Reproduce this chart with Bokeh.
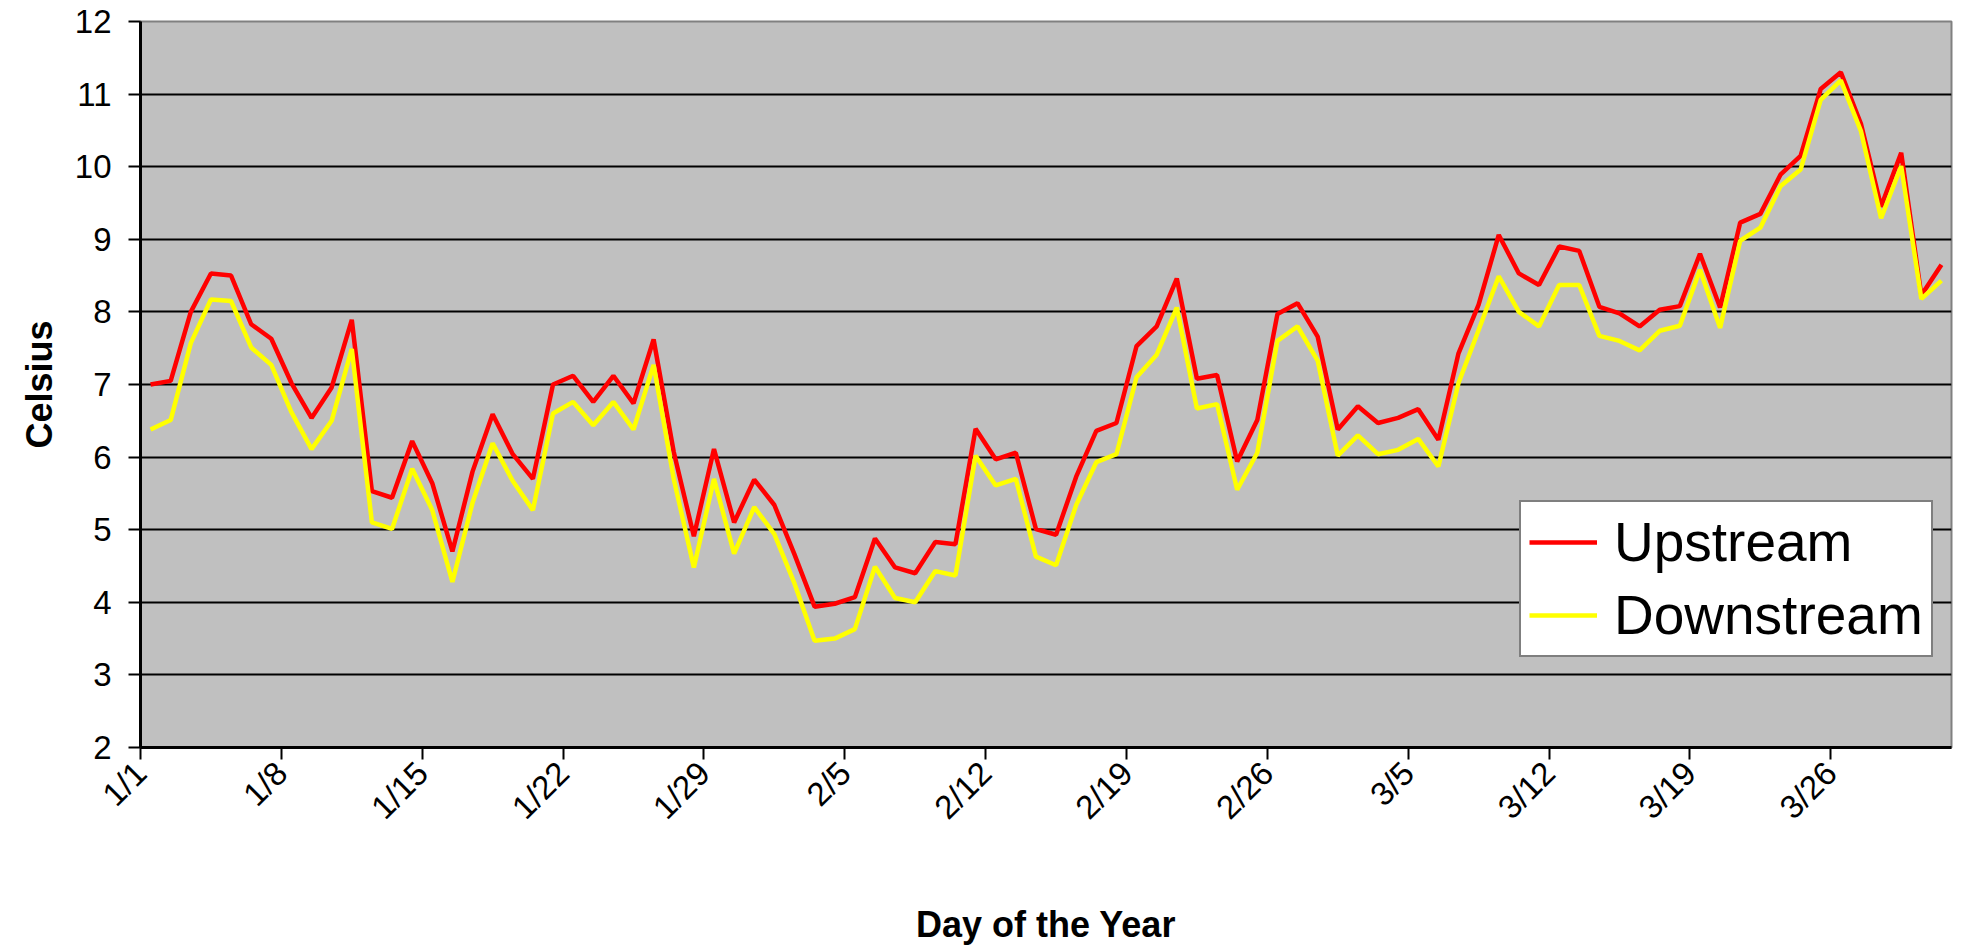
import math
from bokeh.plotting import figure
from bokeh.models import Range1d, FixedTicker, Legend, LegendItem, ColumnDataSource
from bokeh.embed import file_html
from bokeh.resources import INLINE

# ---- data ----
upstream = [7.00, 7.05, 8.00, 8.53, 8.50, 7.83, 7.63, 7.02, 6.54, 6.96,
            7.89, 5.53, 5.44, 6.22, 5.64, 4.70, 5.80, 6.59, 6.04, 5.70,
            7.00, 7.12, 6.76, 7.12, 6.74, 7.62, 6.07, 4.91, 6.11, 5.10,
            5.69, 5.34, 4.66, 3.94, 3.98, 4.07, 4.88, 4.48, 4.40, 4.83,
            4.80, 6.39, 5.97, 6.06, 5.01, 4.93, 5.73, 6.36, 6.47, 7.53,
            7.80, 8.46, 7.08, 7.13, 5.94, 6.51, 7.97, 8.12, 7.66, 6.38,
            6.70, 6.47, 6.54, 6.66, 6.24, 7.43, 8.10, 9.06, 8.53, 8.37,
            8.90, 8.84, 8.07, 7.98, 7.80, 8.03, 8.08, 8.80, 8.06, 9.23,
            9.35, 9.89, 10.15, 11.07, 11.30, 10.59, 9.45, 10.19, 8.23, 8.65]

downstream = [6.38, 6.51, 7.57, 8.17, 8.15, 7.51, 7.27, 6.62, 6.11, 6.50,
              7.49, 5.10, 5.01, 5.84, 5.27, 4.28, 5.37, 6.19, 5.67, 5.27,
              6.60, 6.76, 6.44, 6.76, 6.38, 7.27, 5.70, 4.48, 5.70, 4.67,
              5.31, 4.94, 4.26, 3.47, 3.50, 3.63, 4.49, 4.06, 4.00, 4.43,
              4.37, 6.02, 5.61, 5.70, 4.63, 4.51, 5.34, 5.93, 6.04, 7.10,
              7.41, 8.06, 6.67, 6.73, 5.55, 6.06, 7.60, 7.80, 7.33, 6.02,
              6.30, 6.04, 6.10, 6.25, 5.87, 7.02, 7.75, 8.49, 8.00, 7.80,
              8.37, 8.37, 7.67, 7.60, 7.47, 7.74, 7.81, 8.58, 7.78, 8.98,
              9.16, 9.73, 9.96, 10.92, 11.19, 10.49, 9.29, 10.01, 8.18, 8.43]

day_index = list(range(len(upstream)))          # 1/1 .. 3/31
tick_days = [0, 7, 14, 21, 28, 35, 42, 49, 56, 63, 70, 77, 84]
tick_labels = ["1/1", "1/8", "1/15", "1/22", "1/29", "2/5", "2/12",
               "2/19", "2/26", "3/5", "3/12", "3/19", "3/26"]
y_ticks = [2, 3, 4, 5, 6, 7, 8, 9, 10, 11, 12]

FONT = "Liberation Sans"

src = ColumnDataSource(dict(x=[d + 0.5 for d in day_index], up=upstream, down=downstream))

p = figure(width=1957, height=948,
           x_range=Range1d(0, len(day_index)), y_range=Range1d(2, 12),
           output_backend="svg", toolbar_location=None,
           min_border_left=140, min_border_right=6,
           min_border_top=21, min_border_bottom=201,
           background_fill_color="#C0C0C0", border_fill_color="white")

p.outline_line_color = "#808080"
p.outline_line_width = 2

# grid
p.xgrid.grid_line_color = None
p.ygrid.grid_line_color = "black"
p.ygrid.grid_line_width = 2
p.ygrid.ticker = FixedTicker(ticks=y_ticks)

# x axis
p.xaxis.ticker = FixedTicker(ticks=tick_days)
p.xaxis.major_label_overrides = {d: l for d, l in zip(tick_days, tick_labels)}
p.xaxis.major_label_orientation = math.pi / 4
p.xaxis.axis_label = "Day of the Year"
p.xaxis.axis_label_standoff = 62

# y axis
p.yaxis.ticker = FixedTicker(ticks=y_ticks)
p.yaxis.axis_label = "Celsius"
p.yaxis.axis_label_standoff = 12
p.yaxis.major_label_standoff = 17

for ax in (p.xaxis[0], p.yaxis[0]):
    ax.axis_line_color = "black"
    ax.axis_line_width = 3
    ax.major_tick_line_color = "black"
    ax.major_tick_line_width = 2
    ax.major_tick_out = 12
    ax.major_tick_in = 0
    ax.minor_tick_line_color = None
    ax.major_label_text_font = FONT
    ax.major_label_text_font_size = "33px"
    ax.major_label_text_color = "black"
    ax.axis_label_text_font = FONT
    ax.axis_label_text_font_size = "36px"
    ax.axis_label_text_font_style = "bold"
    ax.axis_label_text_color = "black"

p.xaxis.major_label_standoff = 8

r_up = p.line("x", "up", source=src, line_color="#FF0000", line_width=4.5)
r_down = p.line("x", "down", source=src, line_color="#FFFF00", line_width=4.5)

legend = Legend(items=[LegendItem(label="Upstream", renderers=[r_up]),
                       LegendItem(label="Downstream", renderers=[r_down])],
                location=(1379, 90))
legend.margin = 0
legend.padding = 8
legend.spacing = 9
legend.glyph_width = 68
legend.glyph_height = 40
legend.label_standoff = 17
legend.label_text_font = FONT
legend.label_text_font_size = "55px"
legend.label_text_color = "black"
legend.border_line_color = "black"
legend.border_line_width = 2
legend.background_fill_color = "white"
legend.background_fill_alpha = 1.0
p.add_layout(legend)

open("out.html", "w").write(file_html(p, INLINE))
